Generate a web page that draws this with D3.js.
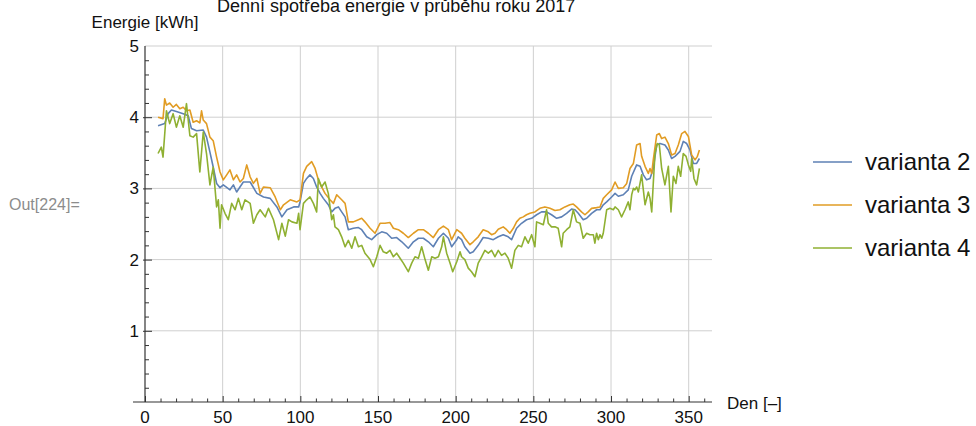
<!DOCTYPE html>
<html>
<head>
<meta charset="utf-8">
<script src="https://cdn.jsdelivr.net/npm/d3@7"></script>
<style>
    body { margin: 0; background: #fff; }
    svg { display: block; font-family: "Liberation Sans", Arial, sans-serif; }
</style>
</head>
<body>
<svg id="chart" width="976" height="426"></svg>
<script>

var title = 'Denní spotřeba energie v průběhu roku 2017';
var yLabel = 'Energie [kWh]';
var xLabel = 'Den [–]';
var seriesNames = ['varianta 2', 'varianta 3', 'varianta 4'];
var xTicks = [0, 50, 100, 150, 200, 250, 300, 350];
var yTicks = [1, 2, 3, 4, 5];

// varianta 2
var days2 = [8.4, 12.7, 14.9, 17.0, 20.2, 24.6, 27.8, 29.9, 33.2, 37.5, 39.6, 41.8, 43.9, 46.1, 48.3, 50.4, 54.7, 56.9, 59.0, 63.3,
    67.7, 72.0, 76.3, 80.6, 84.9, 88.1, 91.4, 95.7, 98.9, 99.8, 102.0, 104.1, 106.2, 108.4, 110.5, 112.7, 114.8, 118.0, 120.2, 122.3,
    124.5, 126.6, 128.8, 130.9, 134.1, 137.4, 139.5, 142.7, 145.9, 149.2, 152.4, 155.6, 158.8, 162.0, 165.3, 169.5, 172.8, 176.0, 179.2, 182.4,
    185.6, 188.9, 192.1, 195.3, 197.4, 200.7, 201.6, 203.8, 205.9, 209.2, 211.3, 214.5, 217.7, 221.0, 224.2, 227.4, 230.6, 233.8, 236.0, 239.2,
    242.4, 245.6, 248.9, 252.1, 255.3, 258.5, 261.7, 265.0, 268.2, 271.4, 274.6, 276.8, 278.9, 282.1, 284.3, 287.5, 290.7, 292.9, 295.0, 297.2,
    300.4, 302.6, 304.7, 307.9, 311.1, 313.3, 316.5, 318.7, 320.8, 322.9, 325.1, 327.2, 329.4, 331.5, 334.7, 336.9, 339.0, 341.2, 344.4, 346.5,
    348.7, 350.8, 353.0, 355.1, 356.9];
var values2 = [3.88, 3.91, 4.05, 4.10, 4.08, 4.05, 4.02, 3.84, 3.81, 3.82, 3.72, 3.51, 3.30, 3.07, 3.01, 3.05, 2.98, 3.05, 2.95, 3.09,
    3.09, 2.93, 2.88, 2.86, 2.74, 2.60, 2.70, 2.74, 2.74, 2.81, 3.07, 3.14, 3.19, 3.14, 3.02, 2.93, 2.86, 2.77, 2.67, 2.72,
    2.74, 2.67, 2.60, 2.42, 2.44, 2.45, 2.42, 2.32, 2.28, 2.35, 2.39, 2.37, 2.30, 2.31, 2.25, 2.16, 2.25, 2.30, 2.30, 2.25,
    2.18, 2.30, 2.37, 2.30, 2.18, 2.28, 2.32, 2.28, 2.18, 2.09, 2.11, 2.20, 2.31, 2.30, 2.28, 2.32, 2.35, 2.32, 2.28, 2.44,
    2.51, 2.56, 2.58, 2.63, 2.67, 2.67, 2.63, 2.58, 2.60, 2.65, 2.71, 2.70, 2.65, 2.56, 2.58, 2.65, 2.70, 2.70, 2.77, 2.81,
    2.88, 2.93, 2.89, 2.91, 2.98, 3.17, 3.33, 3.31, 3.19, 3.12, 3.14, 3.28, 3.61, 3.63, 3.61, 3.54, 3.42, 3.45, 3.52, 3.66,
    3.63, 3.54, 3.35, 3.35, 3.42];

// varianta 3
var days3 = [8.4, 11.6, 12.7, 13.8, 15.9, 18.1, 20.2, 22.4, 24.6, 26.7, 28.9, 31.0, 33.2, 35.3, 36.4, 37.5, 39.6, 41.8, 43.9, 46.1,
    48.3, 50.4, 52.6, 54.7, 56.9, 59.0, 61.2, 63.3, 65.5, 67.7, 69.8, 72.0, 74.1, 76.3, 80.6, 83.8, 87.1, 89.2, 93.5, 97.8,
    99.8, 102.0, 104.1, 107.3, 109.5, 111.6, 113.7, 115.9, 119.1, 121.3, 123.4, 126.6, 128.8, 130.9, 134.1, 137.4, 139.5, 141.6, 144.9, 148.1,
    151.3, 154.5, 157.7, 159.9, 163.1, 166.3, 169.5, 172.8, 176.0, 179.2, 182.4, 185.6, 188.9, 192.1, 195.3, 197.4, 200.7, 203.8, 205.9, 209.2,
    211.3, 214.5, 217.7, 221.0, 223.1, 225.3, 227.4, 230.6, 232.8, 234.9, 237.1, 239.2, 241.3, 243.5, 245.6, 247.8, 251.0, 254.2, 257.4, 260.7,
    263.9, 267.1, 270.3, 273.5, 275.7, 277.8, 281.0, 283.2, 285.3, 287.5, 290.7, 292.9, 295.0, 297.2, 300.4, 302.6, 304.7, 307.9, 310.1, 312.2,
    314.4, 316.5, 318.7, 319.7, 321.9, 324.0, 325.1, 326.2, 327.2, 329.4, 331.1, 332.6, 334.7, 336.9, 339.0, 341.2, 343.3, 345.5, 347.6, 349.8,
    351.9, 354.1, 355.6, 356.9];
var values3 = [4.00, 3.98, 4.26, 4.17, 4.20, 4.14, 4.18, 4.12, 4.14, 4.09, 4.10, 3.93, 3.95, 3.92, 4.09, 3.96, 3.91, 3.72, 3.67, 3.44,
    3.23, 3.12, 3.19, 3.26, 3.12, 3.19, 3.09, 3.14, 3.33, 3.16, 3.07, 3.14, 2.93, 3.02, 3.01, 2.88, 2.70, 2.77, 2.84, 2.81,
    2.84, 3.21, 3.31, 3.375, 3.28, 3.12, 3.02, 2.93, 2.84, 2.79, 2.91, 2.84, 2.79, 2.53, 2.53, 2.56, 2.58, 2.53, 2.44, 2.37,
    2.51, 2.51, 2.52, 2.44, 2.42, 2.37, 2.31, 2.37, 2.42, 2.42, 2.37, 2.31, 2.42, 2.47, 2.42, 2.28, 2.42, 2.37, 2.30, 2.21,
    2.25, 2.32, 2.42, 2.39, 2.35, 2.37, 2.425, 2.46, 2.42, 2.37, 2.44, 2.53, 2.58, 2.60, 2.63, 2.65, 2.67, 2.72, 2.74, 2.72,
    2.69, 2.70, 2.74, 2.77, 2.78, 2.74, 2.67, 2.63, 2.67, 2.72, 2.73, 2.74, 2.86, 2.91, 2.98, 3.09, 3.00, 3.01, 3.07, 3.28,
    3.35, 3.61, 3.63, 3.45, 3.31, 3.21, 3.28, 3.21, 3.40, 3.75, 3.77, 3.70, 3.72, 3.63, 3.47, 3.49, 3.61, 3.77, 3.80, 3.73,
    3.47, 3.40, 3.45, 3.54];

// varianta 4
var days4 = [8.4, 10.5, 11.6, 13.8, 15.9, 18.1, 20.2, 22.4, 24.6, 26.7, 28.9, 31.0, 33.2, 35.3, 37.5, 39.6, 41.8, 43.9, 46.1, 47.2,
    48.3, 49.3, 51.5, 53.6, 55.8, 58.0, 60.1, 62.3, 64.4, 67.7, 69.8, 72.0, 74.1, 77.4, 79.5, 82.7, 86.0, 88.1, 90.3, 92.4,
    94.6, 97.8, 98.9, 99.8, 102.0, 104.1, 106.2, 108.4, 110.5, 111.6, 113.7, 115.9, 118.0, 120.2, 121.3, 122.3, 124.5, 126.6, 128.8, 130.9,
    133.1, 135.2, 137.4, 139.5, 141.6, 144.9, 147.0, 149.2, 151.3, 153.4, 155.6, 157.7, 159.9, 162.0, 164.2, 166.3, 169.5, 171.7, 173.8, 176.0,
    178.1, 180.3, 182.4, 184.6, 186.7, 188.9, 191.0, 192.1, 194.2, 196.4, 198.1, 200.7, 202.8, 203.8, 205.9, 208.1, 210.2, 212.4, 214.5, 216.7,
    218.8, 221.0, 223.1, 225.3, 227.4, 229.5, 231.7, 233.8, 236.0, 238.1, 240.3, 242.4, 244.6, 246.7, 248.9, 251.0, 252.1, 254.2, 256.4, 258.5,
    259.6, 261.7, 263.9, 266.0, 268.2, 269.2, 271.4, 273.5, 275.7, 277.8, 280.0, 282.1, 284.3, 286.4, 288.6, 289.6, 290.7, 291.8, 292.9, 294.0,
    295.0, 297.2, 299.3, 301.5, 302.6, 304.7, 306.8, 309.0, 311.1, 312.2, 313.3, 314.4, 315.4, 316.5, 317.6, 319.7, 320.8, 321.9, 324.0, 325.1,
    326.2, 327.2, 328.3, 329.8, 331.1, 332.6, 334.7, 336.9, 338.6, 340.1, 341.8, 343.3, 344.8, 346.5, 348.3, 349.8, 351.3, 351.9, 353.4, 355.1,
    356.9];
var values4 = [3.49, 3.58, 3.44, 4.09, 3.91, 4.05, 3.86, 4.02, 3.86, 4.19, 3.74, 3.72, 3.77, 3.23, 3.79, 3.49, 3.05, 3.30, 2.74, 2.84,
    2.44, 2.77, 2.65, 2.56, 2.79, 2.70, 2.86, 2.70, 2.84, 2.79, 2.51, 2.63, 2.70, 2.60, 2.72, 2.56, 2.28, 2.51, 2.33, 2.56,
    2.53, 2.51, 2.65, 2.42, 2.79, 2.84, 2.88, 2.79, 2.67, 3.14, 3.02, 3.09, 2.93, 2.56, 2.63, 2.46, 2.42, 2.32, 2.18, 2.27,
    2.16, 2.32, 2.18, 2.20, 2.09, 2.00, 1.90, 2.04, 2.20, 2.11, 2.09, 2.13, 2.04, 2.09, 2.02, 1.95, 1.83, 1.95, 2.04, 2.02,
    2.18, 2.00, 1.85, 2.04, 2.02, 2.04, 2.18, 2.32, 2.09, 1.95, 1.83, 1.97, 2.11, 2.04, 2.00, 1.88, 1.83, 1.76, 1.95, 2.04,
    2.13, 2.09, 2.13, 2.04, 2.13, 2.06, 2.09, 2.02, 1.88, 2.13, 2.20, 2.18, 2.32, 2.23, 2.35, 2.18, 2.53, 2.51, 2.49, 2.70,
    2.51, 2.46, 2.46, 2.44, 2.18, 2.37, 2.42, 2.46, 2.70, 2.53, 2.51, 2.30, 2.37, 2.35, 2.35, 2.23, 2.37, 2.28, 2.35, 2.30,
    2.37, 2.70, 2.72, 2.70, 2.74, 2.70, 2.60, 2.70, 2.81, 2.70, 2.91, 3.00, 2.98, 3.02, 2.95, 3.19, 2.98, 2.77, 2.95, 2.86,
    2.67, 3.07, 3.49, 3.63, 3.61, 3.28, 3.05, 3.31, 2.67, 3.17, 3.07, 3.31, 3.17, 3.49, 3.45, 3.33, 3.24, 3.42, 3.14, 3.05,
    3.28];

var colors = ['#5E81B5', '#E19C24', '#8FB032'];

var svg = d3.select('#chart');

var x = d3.scaleLinear().domain([0, 365]).range([145, 712]);
var y = d3.scaleLinear().domain([0, 5]).range([402, 46]);

var series = [
    {name: seriesNames[0], days: days2, values: values2, color: colors[0]},
    {name: seriesNames[1], days: days3, values: values3, color: colors[1]},
    {name: seriesNames[2], days: days4, values: values4, color: colors[2]}
];

// grid
var grid = svg.append('g');
grid.selectAll('line.gx').data(xTicks.filter(function (d) { return d > 0; })).enter().append('line')
    .attr('x1', function (d) { return x(d); }).attr('x2', function (d) { return x(d); })
    .attr('y1', y(5)).attr('y2', y(0))
    .attr('stroke', '#cfcfcf').attr('stroke-width', 1);
grid.selectAll('line.gy').data(yTicks).enter().append('line')
    .attr('x1', x(0)).attr('x2', x(365))
    .attr('y1', function (d) { return y(d); }).attr('y2', function (d) { return y(d); })
    .attr('stroke', '#cfcfcf').attr('stroke-width', 1);

// x axis, ticks point up into the plot
var xAxisG = svg.append('g').attr('transform', 'translate(0,' + y(0) + ')')
    .call(d3.axisTop(x).tickValues(d3.range(0, 361, 10)).tickSize(3.5).tickFormat(''));
xAxisG.select('.domain').remove();
xAxisG.selectAll('.tick line').attr('stroke', '#333')
    .attr('y2', function (d) { return d % 50 === 0 ? -6 : -3.5; });
svg.append('line').attr('x1', 133).attr('x2', x(365)).attr('y1', y(0)).attr('y2', y(0))
    .attr('stroke', '#333').attr('stroke-width', 1.2);
svg.selectAll('text.xt').data(xTicks).enter().append('text')
    .attr('x', function (d) { return x(d); }).attr('y', 423)
    .attr('text-anchor', 'middle').attr('font-size', 17).attr('fill', '#111')
    .text(function (d) { return d; });

// y axis
var yAxisG = svg.append('g').attr('transform', 'translate(' + x(0) + ',0)')
    .call(d3.axisRight(y).tickValues(d3.range(1, 25).map(function (d) { return d / 5; })).tickFormat(''));
yAxisG.select('.domain').remove();
yAxisG.selectAll('.tick line').attr('stroke', '#333')
    .attr('x1', function (d) { return Math.abs(d - Math.round(d)) < 1e-6 ? -2 : 0; })
    .attr('x2', function (d) { return Math.abs(d - Math.round(d)) < 1e-6 ? 7 : 4; });
svg.append('line').attr('x1', x(0)).attr('x2', x(0)).attr('y1', y(5)).attr('y2', y(0))
    .attr('stroke', '#333').attr('stroke-width', 1.2);
svg.selectAll('text.yt').data(yTicks).enter().append('text')
    .attr('x', 139).attr('y', function (d) { return y(d) + 6; })
    .attr('text-anchor', 'end').attr('font-size', 17).attr('fill', '#111')
    .text(function (d) { return d; });

// lines
var line = d3.line()
    .x(function (d) { return x(d[0]); })
    .y(function (d) { return y(d[1]); });

series.forEach(function (s) {
    svg.append('path')
        .datum(d3.zip(s.days, s.values))
        .attr('d', line)
        .attr('fill', 'none')
        .attr('stroke', s.color)
        .attr('stroke-width', 1.6)
        .attr('stroke-linejoin', 'round');
});

// labels
svg.append('text').attr('x', 217).attr('y', 12).attr('font-size', 18).attr('fill', '#111').text(title);
svg.append('text').attr('x', x(0)).attr('y', 28).attr('text-anchor', 'middle').attr('font-size', 17).attr('fill', '#111').text(yLabel);
svg.append('text').attr('x', 727).attr('y', 409).attr('font-size', 17).attr('fill', '#111').text(xLabel);
svg.append('text').attr('x', 9).attr('y', 210).attr('font-size', 16).attr('fill', '#8c8c8c').text('Out[224]=');

// legend
var legend = svg.selectAll('g.legend').data(series).enter().append('g')
    .attr('transform', function (d, i) { return 'translate(813,' + (162 + i * 43) + ')'; });
legend.append('line').attr('x1', 0).attr('x2', 39).attr('y1', 0).attr('y2', 0)
    .attr('stroke', function (d) { return d.color; }).attr('stroke-width', 1.6);
legend.append('text').attr('x', 52).attr('y', 8).attr('font-size', 24).attr('fill', '#111')
    .text(function (d) { return d.name; });

</script>
</body>
</html>
